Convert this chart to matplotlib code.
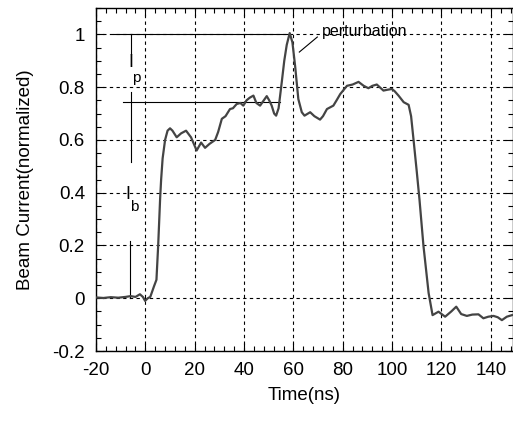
import matplotlib
matplotlib.use("Agg")
import matplotlib.pyplot as plt
from matplotlib.ticker import MultipleLocator

plt.rcParams['font.family'] = ['Liberation Sans', 'DejaVu Sans']
plt.rcParams['axes.unicode_minus'] = False

# beam current trace
time_ns = [-20, -17, -14, -11, -8, -6, -4, -2.2, -1, -0.1, 1, 2, 3.5, 4.5, 5.2,
           6, 6.4, 7, 8, 9, 10, 11, 12.7, 14.5, 16.5, 18.5, 20.8, 22.6, 24.2,
           26, 28.3, 29.5, 31, 32.5, 34.3, 35.5, 37, 38.5, 39.7, 41, 42.3,
           43.8, 45, 46.5, 48, 49.2, 50.2, 51.2, 52.2, 53, 54, 55.3, 56.3,
           57.3, 58.5, 59.6, 60.7, 62, 63.4, 64.5, 66.8, 68.5, 70.8, 72, 73.6,
           76.2, 77.5, 79, 81.7, 84, 86.4, 88.5, 90.4, 92, 93.8, 96.5, 98,
           99.9, 101, 102.6, 104.7, 106.7, 107.7, 108.7, 110, 111.1, 112.7,
           114.8, 116.4, 118.8, 121.5, 124, 126, 128, 130.3, 132.5, 135, 137,
           139, 141.1, 142.8, 144.5, 146.5, 148.6]
current = [0.003, 0.001, 0.004, 0.002, 0.005, 0.008, 0.005, 0.015, 0.005,
           -0.01, 0.0, 0.005, 0.045, 0.07, 0.2, 0.38, 0.45, 0.53, 0.6, 0.635,
           0.644, 0.635, 0.61, 0.625, 0.635, 0.61, 0.56, 0.59, 0.57, 0.585,
           0.6, 0.63, 0.68, 0.69, 0.717, 0.72, 0.736, 0.74, 0.73, 0.75, 0.76,
           0.768, 0.74, 0.73, 0.75, 0.766, 0.75, 0.73, 0.7, 0.692, 0.72, 0.82,
           0.9, 0.96, 1.005, 0.97, 0.88, 0.755, 0.705, 0.692, 0.705, 0.69,
           0.677, 0.69, 0.717, 0.73, 0.75, 0.774, 0.805, 0.81, 0.82, 0.805,
           0.796, 0.805, 0.81, 0.787, 0.79, 0.793, 0.785, 0.768, 0.743, 0.733,
           0.69, 0.6, 0.48, 0.374, 0.2, 0.02, -0.064, -0.051, -0.07, -0.05,
           -0.032, -0.06, -0.067, -0.062, -0.061, -0.076, -0.07, -0.067,
           -0.072, -0.083, -0.07, -0.064]

peak_level = 1.0
flat_level = 0.743

fig = plt.figure(figsize=(5.13, 4.22), dpi=100)
ax = fig.add_axes([96/513, 1 - 351/422, 416.5/513, 343/422])

ax.plot(time_ns, current, color='#444444', lw=1.6, zorder=3)

# marker lines for Ip / Ib
ax.plot([-13.2, 58.5], [peak_level, peak_level], color='black', lw=0.8)
ax.plot([-8.9, 54.6], [flat_level, flat_level], color='black', lw=0.8)
ax.plot([-6, -6], [1.0, 0.927], color='black', lw=0.8)
ax.plot([-6, -6], [0.783, 0.517], color='black', lw=0.8)
ax.plot([-6.1, -6.1], [0.0, 0.216], color='black', lw=0.8)

ax.text(-5.9, 0.893, 'I', fontsize=13, ha='center', va='center')
ax.text(-3.7, 0.835, 'p', fontsize=11, ha='center', va='center')
ax.text(-7.0, 0.395, 'I', fontsize=13, ha='center', va='center')
ax.text(-4.6, 0.345, 'b', fontsize=11, ha='center', va='center')

ax.plot([62.4, 69.7], [0.933, 0.99], color='black', lw=0.8)
ax.text(71.5, 0.995, 'perturbation', fontsize=11.5, ha='left', va='baseline')

ax.set_xlim(-20, 148.8)
ax.set_ylim(-0.2, 1.1)
ax.xaxis.set_major_locator(MultipleLocator(20))
ax.xaxis.set_minor_locator(MultipleLocator(4))
ax.yaxis.set_minor_locator(MultipleLocator(0.05))
ax.set_yticks([-0.2, 0, 0.2, 0.4, 0.6, 0.8, 1])
ax.set_yticklabels(['-0.2', '0', '0.2', '0.4', '0.6', '0.8', '1'])

ax.tick_params(which='both', direction='in', top=True, right=True,
               labelsize=13.5, width=0.8)
ax.tick_params(which='major', length=6, pad=8)
ax.tick_params(which='minor', length=3.5)

ax.grid(True, which='major', color='black', lw=0.8, ls=(0, (3, 3)))

ax.set_xlabel('Time(ns)', fontsize=13.5)
ax.set_ylabel('Beam Current(normalized)', fontsize=13.5)
ax.xaxis.set_label_coords(0.5, -0.105)
ax.yaxis.set_label_coords(-0.15, 0.5)

for s in ax.spines.values():
    s.set_linewidth(1.0)

fig.savefig('out.png', dpi=100)
